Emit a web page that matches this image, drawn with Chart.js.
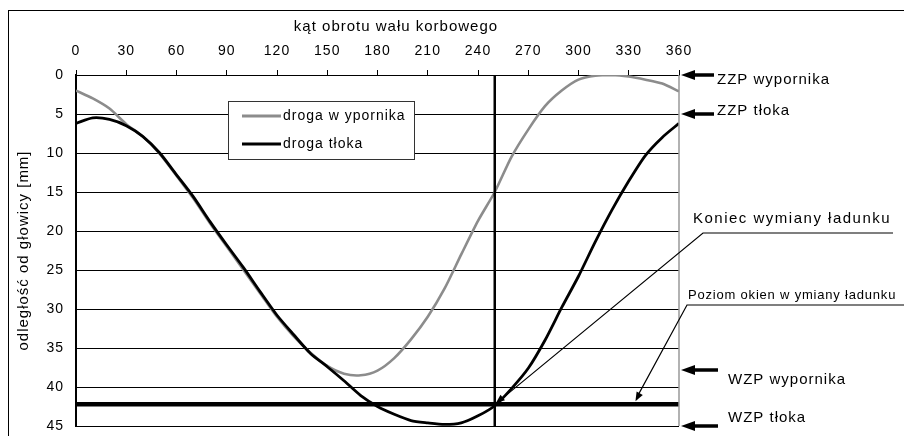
<!DOCTYPE html>
<html>
<head>
<meta charset="utf-8">
<script src="https://cdn.jsdelivr.net/npm/chart.js@4"></script>
<style>
  html, body { margin: 0; padding: 0; background: #fff; }
  #wrap { width: 904px; height: 436px; }
</style>
</head>
<body>
<div id="wrap"><canvas id="chart" width="904" height="436"></canvas></div>
<script>
// kąt obrotu wału korbowego [deg]
const angles = [0, 10, 20, 30, 40, 50, 60, 70, 80, 90, 100, 110, 120, 130, 140, 150, 160, 170, 180,
  190, 200, 210, 220, 230, 240, 250, 260, 270, 280, 290, 300, 310, 320, 330, 340, 350, 360];

// droga tłoka [mm]
const pistonPath = [6.2, 5.5, 5.7, 6.5, 7.9, 10.0, 12.8, 15.6, 18.8, 21.8, 24.7, 27.8, 30.8, 33.3, 35.7, 37.4,
  39.2, 41.1, 42.5, 43.5, 44.3, 44.6, 44.8, 44.6, 43.7, 42.4, 40.2, 37.6, 34.0, 29.8, 25.8, 21.4,
  17.3, 13.6, 10.3, 8.0, 6.2];

// droga wypornika [mm]
const displacerPath = [2.0, 3.0, 4.3, 6.3, 7.9, 10.1, 12.9, 15.8, 19.0, 22.0, 25.0, 28.0, 31.0, 33.5, 35.6, 37.3,
  38.3, 38.5, 37.9, 36.3, 33.9, 31.0, 27.4, 23.0, 18.7, 15.0, 10.5, 7.0, 4.0, 2.0, 0.6, 0.1,
  0.0, 0.2, 0.6, 1.1, 2.1];

const seriesLabels = ['droga w ypornika', 'droga tłoka'];
const xTitle = 'kąt obrotu wału korbowego';
const markAngle = 250;     // koniec wymiany ładunku
const windowLevel = 42.2;  // poziom okien
const yMax = 45;

const toPoints = (ys) => angles.map((a, i) => ({ x: a, y: ys[i] }));

const FONT = 'Arial, "Liberation Sans", sans-serif';

function arrowHead(ctx, fromX, fromY, tipX, tipY, len, half) {
  const ang = Math.atan2(tipY - fromY, tipX - fromX);
  ctx.beginPath();
  ctx.moveTo(tipX, tipY);
  ctx.lineTo(tipX - len * Math.cos(ang) + half * Math.sin(ang), tipY - len * Math.sin(ang) - half * Math.cos(ang));
  ctx.lineTo(tipX - len * Math.cos(ang) - half * Math.sin(ang), tipY - len * Math.sin(ang) + half * Math.cos(ang));
  ctx.closePath();
  ctx.fill();
}

function bigArrow(ctx, tipX, y, tailX) {
  ctx.lineWidth = 3.5;
  ctx.beginPath();
  ctx.moveTo(tailX, y);
  ctx.lineTo(tipX + 8, y);
  ctx.stroke();
  arrowHead(ctx, tailX, y, tipX, y, 14, 5);
}

const decorations = {
  id: 'decorations',
  beforeDraw(chart) {
    chart.ctx.letterSpacing = '1px';
  },
  afterDatasetsDraw(chart) {
    const { ctx, chartArea, scales } = chart;
    const x = scales.x, y = scales.y;
    ctx.save();

    // x axis title (sits a bit right of centre in the original)
    ctx.fillStyle = '#000';
    ctx.font = '15px ' + FONT;
    ctx.textAlign = 'center';
    ctx.textBaseline = 'middle';
    ctx.fillText(xTitle, 396, 27);
    ctx.textAlign = 'left';

    // right border of plot
    ctx.strokeStyle = '#999';
    ctx.lineWidth = 1.5;
    ctx.beginPath();
    ctx.moveTo(chartArea.right, chartArea.top);
    ctx.lineTo(chartArea.right, chartArea.bottom);
    ctx.stroke();

    // legend
    const lx = 228.5, ly = 101.5, lw = 186, lh = 58;
    ctx.fillStyle = '#fff';
    ctx.fillRect(lx, ly, lw, lh);
    ctx.strokeStyle = '#333';
    ctx.lineWidth = 1;
    ctx.strokeRect(lx, ly, lw, lh);
    const legendColors = ['#8c8c8c', '#000'];
    ctx.font = '14px ' + FONT;
    ctx.textBaseline = 'middle';
    seriesLabels.forEach((lab, i) => {
      const yy = 116 + i * 28;
      ctx.strokeStyle = legendColors[i];
      ctx.lineWidth = 3;
      ctx.beginPath();
      ctx.moveTo(242, yy);
      ctx.lineTo(281, yy);
      ctx.stroke();
      ctx.fillStyle = '#000';
      ctx.fillText(lab, 283, yy);
    });

    // right-side markers
    ctx.fillStyle = '#000';
    ctx.strokeStyle = '#000';
    const tip = chartArea.right + 2;
    bigArrow(ctx, tip, y.getPixelForValue(0), 714);
    bigArrow(ctx, tip, y.getPixelForValue(5), 714);
    bigArrow(ctx, tip, 370, 718);
    bigArrow(ctx, tip, y.getPixelForValue(yMax), 718);

    ctx.textBaseline = 'alphabetic';
    ctx.font = '15px ' + FONT;
    ctx.fillText('ZZP wypornika', 717, 84);
    ctx.fillText('ZZP tłoka', 717, 115);
    ctx.fillText('WZP wypornika', 728, 384);
    ctx.fillText('WZP tłoka', 728, 422);

    // Koniec wymiany ładunku
    ctx.letterSpacing = '1.5px';
    ctx.font = '15px ' + FONT;
    ctx.fillText('Koniec wymiany ładunku', 693, 223);
    const ix = x.getPixelForValue(markAngle), iy = y.getPixelForValue(windowLevel);
    ctx.lineWidth = 1.2;
    ctx.beginPath();
    ctx.moveTo(893, 233);
    ctx.lineTo(703, 233);
    ctx.lineTo(ix + 3, iy - 2);
    ctx.stroke();
    arrowHead(ctx, 703, 233, ix + 1, iy - 1, 9, 3.5);

    // Poziom okien wymiany ładunku
    ctx.letterSpacing = '0.8px';
    ctx.font = '13px ' + FONT;
    ctx.fillText('Poziom okien w ymiany ładunku', 688, 299);
    const px = x.getPixelForValue(334), py = iy - 3;
    ctx.beginPath();
    ctx.moveTo(904, 305);
    ctx.lineTo(687, 305);
    ctx.lineTo(px + 1, py - 3);
    ctx.stroke();
    arrowHead(ctx, 687, 305, px, py, 9, 3.5);

    // outer frame
    ctx.strokeStyle = '#000';
    ctx.lineWidth = 1;
    ctx.strokeRect(8.5, 10.5, 1000, 1000);
    ctx.restore();
  }
};

new Chart(document.getElementById('chart'), {
  type: 'line',
  data: {
    datasets: [
      {
        label: seriesLabels[0],
        data: toPoints(displacerPath),
        borderColor: '#8c8c8c',
        borderWidth: 2.6,
        pointRadius: 0,
        tension: 0.25,
        order: 2
      },
      {
        label: seriesLabels[1],
        data: toPoints(pistonPath),
        borderColor: '#000',
        borderWidth: 2.8,
        pointRadius: 0,
        tension: 0.25,
        order: 1
      },
      {
        label: 'poziom okien',
        data: [{ x: 0, y: windowLevel }, { x: 360, y: windowLevel }],
        borderColor: '#000',
        borderWidth: 4.5,
        pointRadius: 0,
        order: 0
      },
      {
        label: 'koniec wymiany',
        data: [{ x: markAngle, y: 0 }, { x: markAngle, y: yMax }],
        borderColor: '#000',
        borderWidth: 2.5,
        pointRadius: 0,
        order: 0
      }
    ]
  },
  options: {
    responsive: false,
    animation: false,
    events: [],
    layout: { padding: { left: 8, right: 225, top: 10, bottom: 10 } },
    plugins: { legend: { display: false }, tooltip: { enabled: false } },
    scales: {
      x: {
        type: 'linear',
        position: 'top',
        min: 0,
        max: 360,
        ticks: { stepSize: 30, color: '#000', padding: 10, font: { size: 14, family: FONT } },
        grid: { drawOnChartArea: false, drawTicks: true, tickLength: 5, color: '#000' },
        border: { color: '#000', width: 1 },
        afterFit(scale) {
          scale.height = 65;
          scale.paddingLeft = 0;
          scale.paddingRight = 0;
        }
      },
      y: {
        reverse: true,
        min: 0,
        max: yMax,
        ticks: { stepSize: 5, color: '#000', padding: 12, font: { size: 14, family: FONT } },
        grid: { color: '#000', lineWidth: 1, drawTicks: false },
        border: { color: '#000', width: 2 },
        title: {
          display: true,
          text: 'odległość od głowicy [mm]',
          color: '#000',
          font: { size: 15, family: FONT },
          padding: { top: 7, bottom: 0 }
        },
        afterFit(scale) {
          scale.width = 68;
          scale.paddingTop = 0;
          scale.paddingBottom = 0;
        }
      }
    }
  },
  plugins: [decorations]
});
</script>
</body>
</html>
